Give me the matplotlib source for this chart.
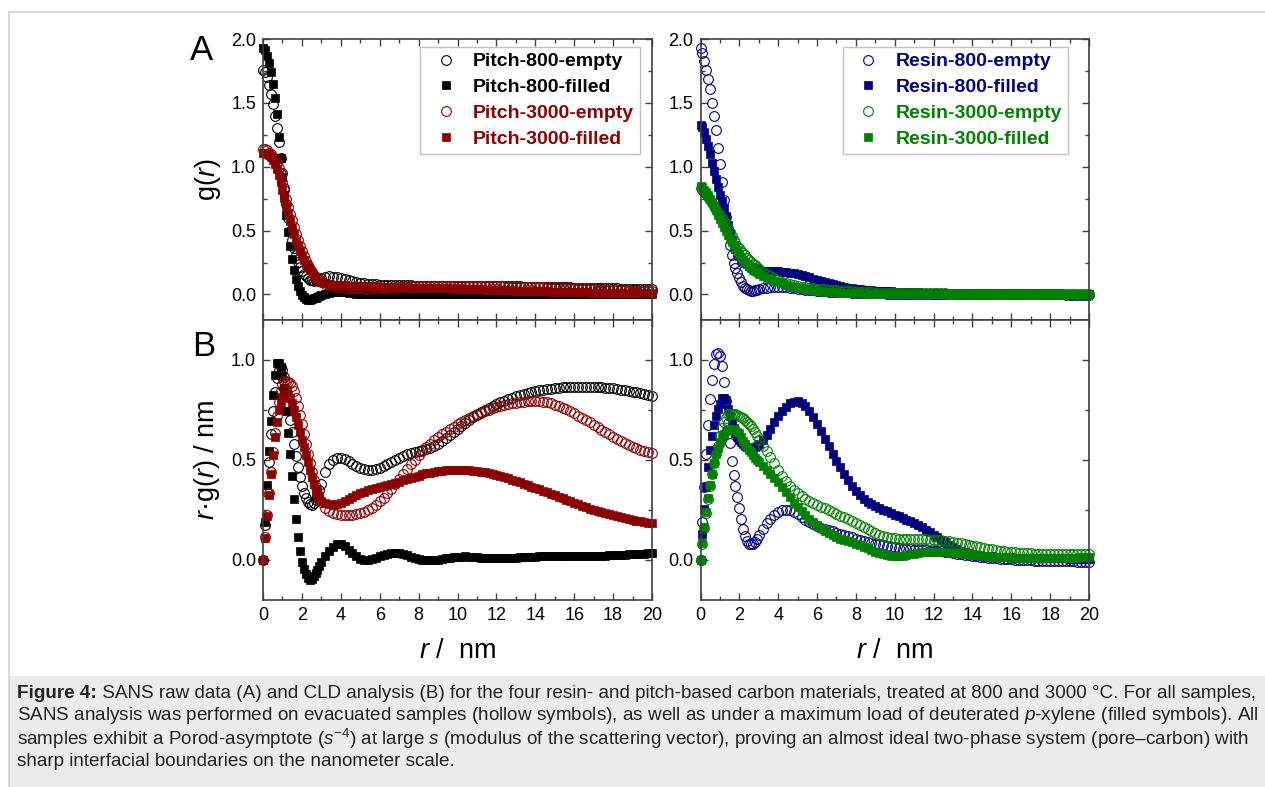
import numpy as np
import matplotlib
matplotlib.use('Agg')
import matplotlib.pyplot as plt
from matplotlib.ticker import MultipleLocator, FormatStrFormatter
from matplotlib.lines import Line2D
from matplotlib.patches import Rectangle

plt.rcParams['font.family'] = ['Liberation Sans', 'DejaVu Sans']
plt.rcParams['mathtext.fontset'] = 'custom'
plt.rcParams['mathtext.rm'] = 'Liberation Sans'
plt.rcParams['mathtext.it'] = 'Liberation Sans:italic'
plt.rcParams['mathtext.bf'] = 'Liberation Sans:bold'

# r grid: 0.1 nm steps up to 3 nm, 0.2 nm steps beyond
r_near = np.round(np.arange(0, 3.01, 0.1), 1)
r_far = np.round(np.arange(3.2, 20.01, 0.2), 1)

# g(r) for r <= 3 nm, r*g(r) for r > 3 nm
g_near_p800e = [
    1.76, 1.74, 1.70, 1.64, 1.57, 1.49, 1.40, 1.30, 1.19, 1.07,
    0.95, 0.83, 0.71, 0.60, 0.50, 0.427, 0.363, 0.306, 0.258, 0.218,
    0.185, 0.16, 0.141, 0.126, 0.117, 0.111, 0.109, 0.111, 0.114, 0.121,
    0.127]
rg_far_p800e = [
    0.44, 0.48, 0.50, 0.508, 0.51, 0.505, 0.495, 0.482, 0.47, 0.46,
    0.453, 0.45, 0.45, 0.453, 0.46, 0.47, 0.48, 0.49, 0.50, 0.51,
    0.52, 0.528, 0.535, 0.54, 0.545, 0.55, 0.555, 0.562, 0.57, 0.58,
    0.595, 0.61, 0.625, 0.64, 0.655, 0.67, 0.685, 0.70, 0.713, 0.726,
    0.738, 0.75, 0.76, 0.77, 0.78, 0.789, 0.797, 0.805, 0.812, 0.818,
    0.824, 0.83, 0.835, 0.84, 0.844, 0.848, 0.851, 0.854, 0.857, 0.859,
    0.861, 0.863, 0.864, 0.865, 0.866, 0.866, 0.867, 0.867, 0.866, 0.866,
    0.865, 0.864, 0.862, 0.86, 0.858, 0.855, 0.852, 0.849, 0.846, 0.842,
    0.838, 0.834, 0.83, 0.826, 0.822]

g_near_p800f = [
    1.93, 1.91, 1.87, 1.81, 1.74, 1.65, 1.54, 1.41, 1.23, 1.07,
    0.92, 0.78, 0.62, 0.49, 0.38, 0.28, 0.19, 0.12, 0.065, 0.025,
    -0.005, -0.022, -0.032, -0.040, -0.041, -0.038, -0.030, -0.024, -0.017, -0.010,
    -0.004]
rg_far_p800f = [
    0.02, 0.045, 0.066, 0.078, 0.078, 0.068, 0.052, 0.035, 0.018, 0.006,
    0.0, 0.0, 0.004, 0.012, 0.02, 0.027, 0.032, 0.035, 0.035, 0.033,
    0.029, 0.023, 0.017, 0.011, 0.006, 0.002, 0.0, -0.001, 0.0, 0.002,
    0.005, 0.008, 0.011, 0.014, 0.016, 0.017, 0.018, 0.017, 0.016, 0.014,
    0.012, 0.011, 0.01, 0.009, 0.009, 0.009, 0.009, 0.01, 0.011, 0.012,
    0.013, 0.014, 0.015, 0.016, 0.017, 0.018, 0.018, 0.019, 0.019, 0.02,
    0.02, 0.02, 0.02, 0.02, 0.02, 0.02, 0.02, 0.02, 0.021, 0.021,
    0.021, 0.022, 0.022, 0.023, 0.024, 0.025, 0.026, 0.027, 0.028, 0.029,
    0.03, 0.031, 0.032, 0.034, 0.036]

g_near_p3000e = [
    1.14, 1.14, 1.13, 1.11, 1.10, 1.08, 1.06, 1.03, 0.99, 0.94,
    0.88, 0.815, 0.746, 0.685, 0.632, 0.58, 0.528, 0.476, 0.428, 0.382,
    0.34, 0.30, 0.264, 0.23, 0.202, 0.176, 0.154, 0.135, 0.12, 0.106,
    0.096]
rg_far_p3000e = [
    0.26, 0.245, 0.236, 0.23, 0.226, 0.224, 0.224, 0.226, 0.229, 0.234,
    0.241, 0.25, 0.262, 0.276, 0.293, 0.312, 0.333, 0.356, 0.38, 0.405,
    0.43, 0.455, 0.479, 0.502, 0.524, 0.545, 0.564, 0.582, 0.598, 0.614,
    0.628, 0.642, 0.655, 0.667, 0.679, 0.69, 0.70, 0.71, 0.719, 0.728,
    0.736, 0.744, 0.751, 0.758, 0.764, 0.77, 0.775, 0.779, 0.783, 0.787,
    0.79, 0.792, 0.794, 0.795, 0.795, 0.794, 0.792, 0.788, 0.783, 0.777,
    0.77, 0.762, 0.753, 0.743, 0.733, 0.722, 0.711, 0.70, 0.688, 0.676,
    0.664, 0.652, 0.64, 0.628, 0.617, 0.606, 0.595, 0.585, 0.575, 0.566,
    0.558, 0.551, 0.545, 0.54, 0.536]

g_near_p3000f = [
    1.11, 1.11, 1.10, 1.09, 1.075, 1.054, 1.025, 0.986, 0.938, 0.878,
    0.815, 0.753, 0.693, 0.635, 0.579, 0.523, 0.47, 0.421, 0.376, 0.337,
    0.30, 0.268, 0.239, 0.212, 0.188, 0.166, 0.147, 0.131, 0.118, 0.107,
    0.098]
rg_far_p3000f = [
    0.283, 0.278, 0.277, 0.28, 0.287, 0.295, 0.305, 0.315, 0.325, 0.334,
    0.342, 0.35, 0.356, 0.362, 0.367, 0.372, 0.377, 0.382, 0.387, 0.392,
    0.398, 0.404, 0.41, 0.416, 0.422, 0.428, 0.433, 0.437, 0.441, 0.444,
    0.446, 0.448, 0.449, 0.45, 0.45, 0.45, 0.449, 0.448, 0.446, 0.444,
    0.441, 0.438, 0.434, 0.43, 0.425, 0.42, 0.414, 0.408, 0.401, 0.394,
    0.388, 0.381, 0.374, 0.367, 0.36, 0.353, 0.346, 0.339, 0.332, 0.325,
    0.317, 0.309, 0.301, 0.293, 0.285, 0.278, 0.271, 0.264, 0.257, 0.251,
    0.245, 0.239, 0.233, 0.228, 0.223, 0.218, 0.213, 0.208, 0.204, 0.2,
    0.196, 0.193, 0.19, 0.187, 0.185]

g_near_r800e = [
    1.93, 1.89, 1.83, 1.76, 1.69, 1.61, 1.50, 1.40, 1.29, 1.15,
    1.02, 0.88, 0.74, 0.61, 0.49, 0.39, 0.31, 0.25, 0.205, 0.165,
    0.13, 0.097, 0.07, 0.052, 0.04, 0.033, 0.03, 0.03, 0.032, 0.036,
    0.041]
rg_far_r800e = [
    0.155, 0.183, 0.207, 0.227, 0.242, 0.25, 0.252, 0.248, 0.24, 0.228,
    0.215, 0.202, 0.19, 0.18, 0.17, 0.162, 0.155, 0.149, 0.143, 0.137,
    0.131, 0.125, 0.119, 0.113, 0.107, 0.102, 0.097, 0.092, 0.087, 0.082,
    0.078, 0.074, 0.07, 0.066, 0.063, 0.06, 0.057, 0.055, 0.053, 0.051,
    0.05, 0.049, 0.048, 0.047, 0.046, 0.045, 0.043, 0.041, 0.038, 0.035,
    0.032, 0.029, 0.026, 0.023, 0.02, 0.018, 0.016, 0.014, 0.012, 0.01,
    0.008, 0.006, 0.005, 0.004, 0.003, 0.002, 0.001, 0.0, -0.001, -0.002,
    -0.003, -0.004, -0.004, -0.005, -0.005, -0.006, -0.006, -0.006, -0.007, -0.007,
    -0.007, -0.008, -0.008, -0.008, -0.008]

g_near_r800f = [
    1.33, 1.31, 1.27, 1.22, 1.16, 1.10, 1.03, 0.965, 0.90, 0.84,
    0.78, 0.735, 0.675, 0.615, 0.54, 0.48, 0.43, 0.388, 0.353, 0.324,
    0.30, 0.28, 0.263, 0.248, 0.235, 0.224, 0.215, 0.207, 0.201, 0.197,
    0.193]
rg_far_r800f = [
    0.60, 0.625, 0.655, 0.69, 0.72, 0.745, 0.767, 0.783, 0.792, 0.793,
    0.785, 0.768, 0.745, 0.715, 0.68, 0.643, 0.605, 0.568, 0.532, 0.497,
    0.463, 0.43, 0.40, 0.372, 0.347, 0.325, 0.307, 0.292, 0.28, 0.27,
    0.261, 0.252, 0.243, 0.234, 0.226, 0.218, 0.21, 0.202, 0.194, 0.185,
    0.175, 0.164, 0.152, 0.14, 0.127, 0.114, 0.101, 0.088, 0.076, 0.065,
    0.055, 0.047, 0.04, 0.034, 0.029, 0.026, 0.023, 0.021, 0.019, 0.018,
    0.017, 0.016, 0.015, 0.014, 0.013, 0.012, 0.012, 0.011, 0.011, 0.01,
    0.01, 0.01, 0.009, 0.009, 0.009, 0.008, 0.008, 0.008, 0.008, 0.007,
    0.007, 0.007, 0.007, 0.006, 0.006]

g_near_r3000e = [
    0.83, 0.82, 0.80, 0.785, 0.765, 0.74, 0.715, 0.69, 0.66, 0.635,
    0.62, 0.60, 0.575, 0.548, 0.52, 0.487, 0.457, 0.43, 0.405, 0.382,
    0.36, 0.34, 0.322, 0.305, 0.288, 0.272, 0.257, 0.242, 0.228, 0.214,
    0.20]
rg_far_r3000e = [
    0.572, 0.545, 0.515, 0.485, 0.452, 0.42, 0.393, 0.37, 0.35, 0.334,
    0.32, 0.305, 0.295, 0.285, 0.276, 0.267, 0.258, 0.249, 0.24, 0.231,
    0.222, 0.213, 0.203, 0.193, 0.183, 0.173, 0.163, 0.153, 0.143, 0.135,
    0.127, 0.121, 0.116, 0.112, 0.109, 0.107, 0.105, 0.104, 0.103, 0.103,
    0.103, 0.103, 0.103, 0.102, 0.101, 0.1, 0.098, 0.096, 0.093, 0.09,
    0.087, 0.084, 0.08, 0.076, 0.072, 0.068, 0.064, 0.06, 0.056, 0.053,
    0.05, 0.047, 0.044, 0.042, 0.04, 0.038, 0.036, 0.035, 0.034, 0.033,
    0.032, 0.032, 0.031, 0.031, 0.031, 0.03, 0.03, 0.03, 0.03, 0.03,
    0.03, 0.03, 0.03, 0.03, 0.03]

g_near_r3000f = [
    0.85, 0.84, 0.82, 0.80, 0.775, 0.75, 0.72, 0.69, 0.66, 0.625,
    0.59, 0.56, 0.525, 0.495, 0.465, 0.438, 0.41, 0.385, 0.36, 0.338,
    0.317, 0.292, 0.27, 0.252, 0.236, 0.221, 0.207, 0.194, 0.183, 0.173,
    0.164]
rg_far_r3000f = [
    0.47, 0.45, 0.432, 0.412, 0.39, 0.366, 0.34, 0.313, 0.287, 0.265,
    0.245, 0.226, 0.207, 0.19, 0.174, 0.16, 0.147, 0.135, 0.124, 0.115,
    0.107, 0.1, 0.094, 0.088, 0.082, 0.075, 0.067, 0.058, 0.049, 0.041,
    0.034, 0.028, 0.024, 0.021, 0.02, 0.02, 0.021, 0.024, 0.028, 0.032,
    0.036, 0.039, 0.041, 0.042, 0.042, 0.042, 0.041, 0.04, 0.039, 0.037,
    0.035, 0.033, 0.031, 0.029, 0.027, 0.025, 0.023, 0.021, 0.019, 0.017,
    0.016, 0.015, 0.014, 0.013, 0.012, 0.011, 0.01, 0.01, 0.009, 0.009,
    0.009, 0.009, 0.009, 0.009, 0.01, 0.01, 0.01, 0.011, 0.011, 0.012,
    0.012, 0.012, 0.013, 0.013, 0.013]

black = '#000000'
darkred = '#8b0000'
navy = '#000080'
green = '#008000'

pitch_series = [
    ('Pitch-800-empty', black, False, g_near_p800e, rg_far_p800e),
    ('Pitch-800-filled', black, True, g_near_p800f, rg_far_p800f),
    ('Pitch-3000-empty', darkred, False, g_near_p3000e, rg_far_p3000e),
    ('Pitch-3000-filled', darkred, True, g_near_p3000f, rg_far_p3000f),
]
resin_series = [
    ('Resin-800-empty', navy, False, g_near_r800e, rg_far_r800e),
    ('Resin-800-filled', navy, True, g_near_r800f, rg_far_r800f),
    ('Resin-3000-empty', green, False, g_near_r3000e, rg_far_r3000e),
    ('Resin-3000-filled', green, True, g_near_r3000f, rg_far_r3000f),
]

r_all = np.concatenate([r_near, r_far])


def build(g_near, rg_far):
    g = np.concatenate([np.array(g_near), np.array(rg_far) / r_far])
    return g, r_all * g


def style(ax, ylim, xlabels):
    ax.set_xlim(0, 20)
    ax.set_ylim(*ylim)
    ax.xaxis.set_major_locator(MultipleLocator(2))
    ax.xaxis.set_minor_locator(MultipleLocator(1))
    ax.yaxis.set_major_locator(MultipleLocator(0.5))
    ax.yaxis.set_minor_locator(MultipleLocator(0.25))
    ax.yaxis.set_major_formatter(FormatStrFormatter('%.1f'))
    ax.tick_params(which='both', direction='in', top=True, right=True,
                   width=1, color='#404040', labelsize=13)
    ax.tick_params(which='major', length=5, pad=5)
    ax.tick_params(which='minor', length=3)
    ax.tick_params(axis='x', labelbottom=xlabels)
    for s in ax.spines.values():
        s.set_linewidth(1.2)
        s.set_color('#404040')


def draw(ax_a, ax_b, series, anchor):
    for label, color, filled, g_near, rg_far in series:
        g, rg = build(g_near, rg_far)
        kw = dict(ls='none', color=color, mec=color, label=label, clip_on=False)
        if filled:
            kw.update(marker='s', ms=5.8, mfc=color, mew=0.5)
        else:
            kw.update(marker='o', ms=7, mfc='none', mew=0.8)
        ax_a.plot(r_all, g, **kw)
        ax_b.plot(r_all, rg, **kw)
    leg = ax_a.legend(loc='upper right', bbox_to_anchor=anchor, borderaxespad=0,
                      prop={'weight': 'bold', 'size': 14}, labelcolor='linecolor',
                      fancybox=False, edgecolor='#c0c0c0', framealpha=1,
                      handlelength=2.0, handletextpad=0.4, labelspacing=0.42,
                      borderpad=0.3)
    leg.get_frame().set_linewidth(1.0)


fig = plt.figure(figsize=(12.65, 7.87), dpi=100)
W, H = 1265.0, 787.0

def box(x0, x1, y0, y1):
    return [x0 / W, 1 - y1 / H, (x1 - x0) / W, (y1 - y0) / H]

axA1 = fig.add_axes(box(263, 652, 39, 320))
axB1 = fig.add_axes(box(263, 652, 320, 600))
axA2 = fig.add_axes(box(700.5, 1089, 39, 320))
axB2 = fig.add_axes(box(700.5, 1089, 320, 600))

draw(axA1, axB1, pitch_series, (0.969, 0.9715))
draw(axA2, axB2, resin_series, (0.946, 0.9715))

for ax in (axA1, axA2):
    style(ax, (-0.2, 2.0), False)
for ax in (axB1, axB2):
    style(ax, (-0.2, 1.2), True)
    ax.set_xlabel('$r$ /  nm', fontsize=19.5)
    ax.xaxis.set_label_coords(0.5, -0.135)

axA1.set_ylabel('g($r$)', fontsize=19.5)
axA1.yaxis.set_label_coords(-0.102, 0.5)
axB1.set_ylabel('$r$·g($r$) / nm', fontsize=19.5)
axB1.yaxis.set_label_coords(-0.105, 0.5)

fig.text(201.5 / W, 1 - 51 / H, 'A', fontsize=25, ha='center', va='center')
fig.text(204 / W, 1 - 347 / H, 'B', fontsize=25, ha='center', va='center')

# frame and caption box
fig.add_artist(Line2D([9 / W, 9 / W], [0, 1 - 12 / H], transform=fig.transFigure,
                      color='#d8d8d8', lw=1.5))
fig.add_artist(Line2D([9 / W, 1], [1 - 12 / H, 1 - 12 / H], transform=fig.transFigure,
                      color='#d8d8d8', lw=1.5))
fig.add_artist(Rectangle((10 / W, 0), 1 - 10 / W, 111 / H, transform=fig.transFigure,
                         facecolor='#ebebeb', edgecolor='none'))

cap_size = 13.6
cap_color = '#222222'
caption = [
    ' SANS raw data (A) and CLD analysis (B) for the four resin- and '
    'pitch-based carbon materials, treated at 800 and 3000 °C. For all samples,',
    r'SANS analysis was performed on evacuated samples (hollow symbols), as well as under a '
    r'maximum load of deuterated $p$-xylene (filled symbols). All',
    r'samples exhibit a Porod-asymptote ($s^{-4}$) at large $s$ (modulus of the scattering '
    r'vector), proving an almost ideal two-phase system (pore–carbon) with',
    'sharp interfacial boundaries on the nanometer scale.',
]
renderer = fig.canvas.get_renderer()
head = fig.text(17 / W, 1 - 693 / H, 'Figure 4:', fontsize=cap_size, fontweight='bold',
                color=cap_color, ha='left', va='center')
head_w = head.get_window_extent(renderer).width
for i, line in enumerate(caption):
    x = 17 + (head_w if i == 0 else 0)
    fig.text(x / W, 1 - (693 + 23 * i) / H, line, fontsize=cap_size, color=cap_color,
             ha='left', va='center')

fig.savefig('out.png', dpi=100)
